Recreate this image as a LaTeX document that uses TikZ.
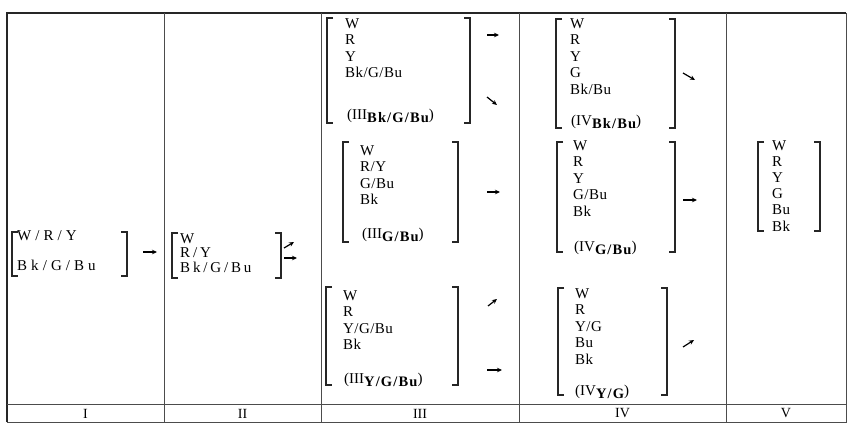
\documentclass[tikz,border=0pt]{standalone}
\usepackage{fontspec}
\setmainfont{Liberation Serif}
\usetikzlibrary{arrows.meta}

\newcommand{\grp}[4]{%
  \draw[brk] ({#1+6},#3) -- (#1,#3) -- (#1,#4) -- ({#1+6},#4);
  \draw[brk] ({#2-6},#3) -- (#2,#3) -- (#2,#4) -- ({#2-6},#4);}
\newcommand{\phase}[2]{(#1\raisebox{-3.5pt}{\bfseries\fontsize{14.5}{14}\selectfont\addfontfeatures{LetterSpace=8}#2})}

\begin{document}
\begin{tikzpicture}[x=1pt, y=-1pt, >=Stealth,
list/.style={anchor=north west, inner sep=0pt, align=left, text=black, font=\fontsize{15}{16.5}\selectfont\addfontfeatures{LetterSpace=3}},
lab/.style={anchor=base west, inner sep=0pt, text=black, font=\fontsize{15}{16.5}\selectfont},
head/.style={inner sep=0pt, text=black, font=\fontsize{14}{14}\selectfont},
brk/.style={draw=black!85, line width=1.5pt},
rule/.style={draw=black!70, line width=0.7pt},
edge/.style={draw=black!85, line width=2pt},
flow/.style={-{Stealth[length=5pt,width=4.5pt]}, line width=1.2pt, draw=black}]
\useasboundingbox (0,0) rectangle (851,423);
\draw[rule] (7,13) rectangle (846,422);
\draw[edge] (7,422) -- (7,13) -- (846,13);
\foreach \cx in {164,321,519,726} \draw[rule] (\cx,13) -- (\cx,422);
\draw[rule] (7,404) -- (846,404);
\node[head] (colI) at (85.5,413.5) {I};
\node[head] (colII) at (242.5,413.5) {II};
\node[head] (colIII) at (420,413.5) {III};
\node[head] (colIV) at (622.5,413.5) {IV};
\node[head] (colV) at (786,413.5) {V};

\node[list, font=\fontsize{15}{16.5}\selectfont\addfontfeatures{LetterSpace=27}] (g1) at (17,230.1) {W/R/Y\\[13.5pt]Bk/G/Bu};
\grp{12}{127}{232}{276}
\node[list, font=\fontsize{15}{14.5}\selectfont\addfontfeatures{LetterSpace=19}] (g2) at (180,233.1) {W\\R/Y\\Bk/G/Bu};
\grp{172}{281}{233}{278}

\node[list] (g3a) at (345,18.1) {W\\R\\Y\\Bk/G/Bu};
\node[lab] (l3a) at (347,119) {\phase{III}{Bk/G/Bu}};
\grp{327}{470}{18}{123}
\node[list] (g3b) at (360,145.1) {W\\R/Y\\G/Bu\\Bk};
\node[lab] (l3b) at (362,238) {\phase{III}{G/Bu}};
\grp{343}{458}{142}{242}
\node[list] (g3c) at (343,290.1) {W\\R\\Y/G/Bu\\Bk};
\node[lab] (l3c) at (344,383) {\phase{III}{Y/G/Bu}};
\grp{326}{458}{287}{385}

\node[list] (g4a) at (570,18.1) {W\\R\\Y\\G\\Bk/Bu};
\node[lab] (l4a) at (571,125) {\phase{IV}{Bk/Bu}};
\grp{556}{675}{19}{128}
\node[list] (g4b) at (573,140.1) {W\\R\\Y\\G/Bu\\Bk};
\node[lab] (l4b) at (574,251) {\phase{IV}{G/Bu}};
\grp{557}{675}{142}{252}
\node[list] (g4c) at (575,288.1) {W\\R\\Y/G\\Bu\\Bk};
\node[lab] (l4c) at (575,395) {\phase{IV}{Y/G}};
\grp{558}{667}{288}{395}

\node[list, font=\fontsize{15}{16.2}\selectfont\addfontfeatures{LetterSpace=3}] (g5) at (772,140.1) {W\\R\\Y\\G\\Bu\\Bk};
\grp{758}{820}{142}{231}

\coordinate (a1) at (143,252);   \coordinate (b1) at (157,252);
\coordinate (a2) at (284,248);   \coordinate (b2) at (294,242);
\coordinate (a3) at (284,258);   \coordinate (b3) at (297,258);
\coordinate (a4) at (487,35);    \coordinate (b4) at (499,35);
\coordinate (a5) at (487,97);    \coordinate (b5) at (497,105);
\coordinate (a6) at (487,192);   \coordinate (b6) at (500,192);
\coordinate (a7) at (488,306);   \coordinate (b7) at (497,299);
\coordinate (a8) at (487,370);   \coordinate (b8) at (502,370);
\coordinate (a9) at (683,73);    \coordinate (b9) at (695,80);
\coordinate (a10) at (683,200);  \coordinate (b10) at (697,200);
\coordinate (a11) at (683,347);  \coordinate (b11) at (694,340);
\foreach \i in {1,...,11} \draw[flow] (a\i) -- (b\i);
\end{tikzpicture}
\end{document}
